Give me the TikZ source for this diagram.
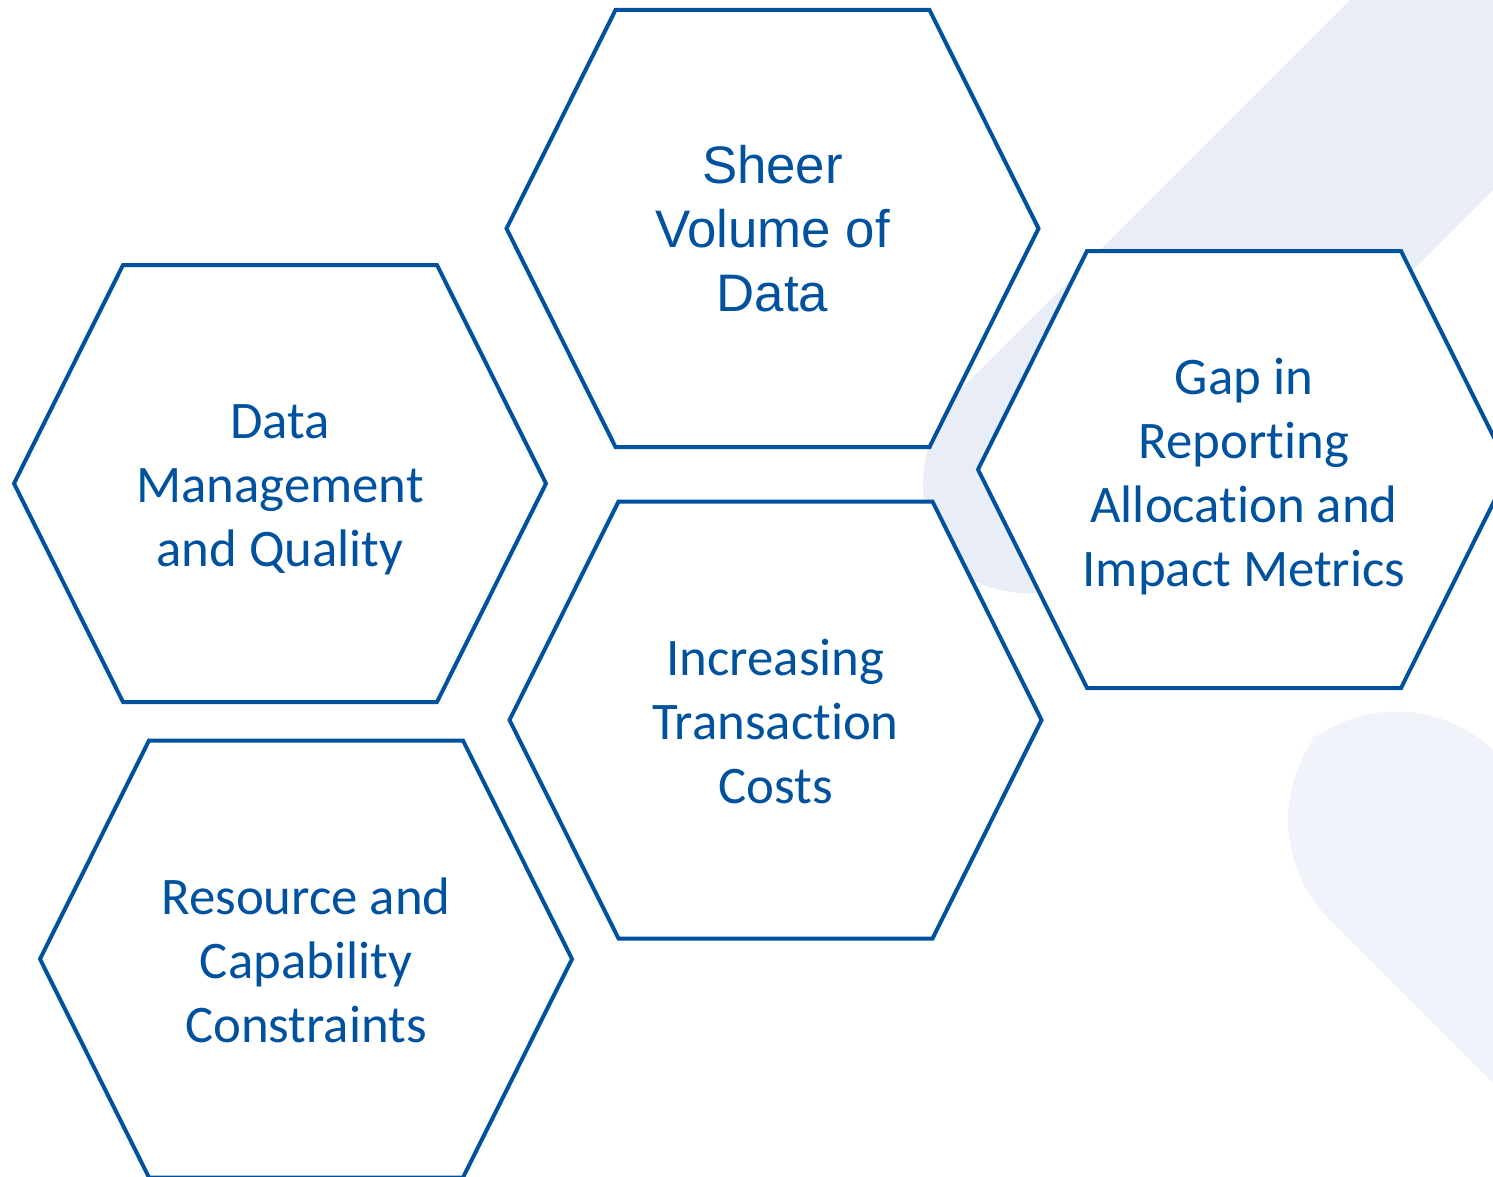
\documentclass[tikz,border=0pt]{standalone}
\usepackage{fontspec}
\setmainfont{Carlito}[Ligatures=NoCommon]
\newfontfamily\arialfont{Liberation Sans}
\usetikzlibrary{backgrounds}

\definecolor{hexblue}{RGB}{0,81,158}
\definecolor{bandblue}{RGB}{233,238,246}
\definecolor{bandpale}{RGB}{240,244,250}

\tikzset{
  hexline/.style={draw=hexblue, fill=white, line width=2pt, line join=miter},
  celltext/.style={align=center, text=hexblue, font=\fontsize{26.4pt}{32pt}\selectfont},
}

% hexagon drawn round a named text node (optional arg: lift above the text centre)
\newcommand{\hexcell}[2][0pt]{%
  \draw [hexline] ([xshift=-133pt, yshift=#1]#2.center) -- ([xshift=-78.5pt, yshift=109.25pt+#1]#2.center)
    -- ([xshift=78.5pt, yshift=109.25pt+#1]#2.center) -- ([xshift=133pt, yshift=#1]#2.center)
    -- ([xshift=78.5pt, yshift=-109.25pt+#1]#2.center) -- ([xshift=-78.5pt, yshift=-109.25pt+#1]#2.center) -- cycle;}

\begin{document}
\begin{tikzpicture}
[every node/.style={inner sep=0pt}]
\useasboundingbox (0pt, 0pt) rectangle (746.5pt, -588.5pt);
\node (volume) [celltext, font=\arialfont\fontsize{26.4pt}{32pt}\selectfont] at (386.25pt, -114.25pt) {Sheer\\Volume of\\Data};
\node (quality) [celltext] at (140.0pt, -245.0pt) {Data\\Management\\and Quality};
\node (costs) [celltext] at (387.75pt, -361.0pt) {Increasing\\Transaction\\Costs};
\node (gap) [celltext] at (622.0pt, -238.5pt) {Gap in\\Reporting\\Allocation and\\Impact Metrics};
\node (resource) [celltext] at (153.0pt, -480.0pt) {Resource and\\Capability\\Constraints};
\begin{pgfonlayer}{background}
\clip (0pt, 0pt) rectangle (746.5pt, -588.5pt);
% faint bands behind the cells
\fill [bandblue, rounded corners=70pt] (850.0pt, 175.0pt) -- (432.5pt, -242.5pt) -- (515.75pt, -325.75pt) -- (1016.5pt, 175.0pt) -- cycle;
\fill [bandpale, rounded corners=70pt] (998.25pt, -626.75pt) -- (698.25pt, -326.75pt) -- (615.0pt, -410.0pt) -- (915.0pt, -710.0pt) -- cycle;
\hexcell{volume}
\hexcell[3.25pt]{quality}
\hexcell[1pt]{costs}
\hexcell[3.75pt]{gap}
\hexcell[0.5pt]{resource}
\end{pgfonlayer}
\end{tikzpicture}
\end{document}
